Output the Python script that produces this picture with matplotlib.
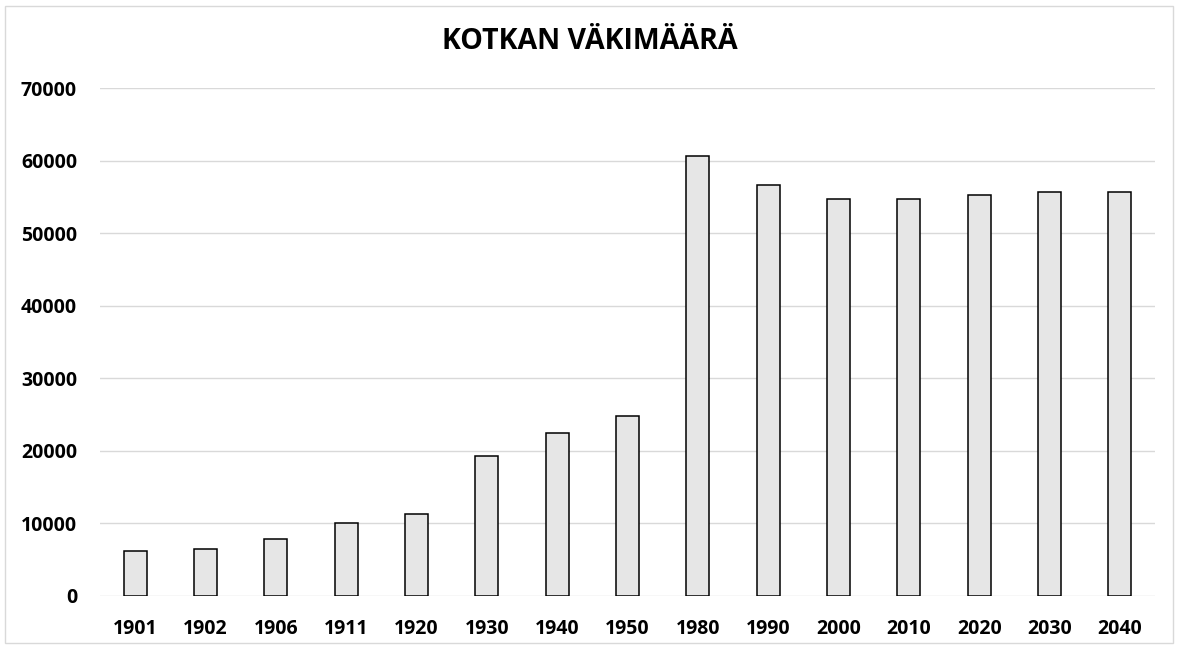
import matplotlib
matplotlib.use("Agg")
import matplotlib.pyplot as plt
from matplotlib.patches import FancyBboxPatch

years = ["1901", "1902", "1906", "1911", "1920", "1930", "1940", "1950",
         "1980", "1990", "2000", "2010", "2020", "2030", "2040"]
population = [6100, 6420, 7800, 9960, 11280, 19260, 22380, 24760,
              60660, 56590, 54750, 54750, 55250, 55710, 55710]
y_ticks = [0, 10000, 20000, 30000, 40000, 50000, 60000, 70000]
title = "KOTKAN VÄKIMÄÄRÄ"

plt.rcParams['font.family'] = ['Open Sans', 'DejaVu Sans']

fig = plt.figure(figsize=(11.79, 6.48), dpi=100)
W, H = 1179, 648
ax = fig.add_axes([100 / W, (H - 595.7) / H, 1055 / W, (595.7 - 88) / H])

x = list(range(len(years)))
ax.bar(x, population, width=0.33, color="#e6e6e6", edgecolor="black",
       linewidth=1.1, zorder=3)

ax.set_xlim(-0.5, len(years) - 0.5)
ax.set_ylim(0, 70000)
ax.set_yticks(y_ticks)
ax.set_yticklabels([str(v) for v in y_ticks], fontsize=14, fontweight="bold")
ax.set_xticks(x)
ax.set_xticklabels(years, fontsize=14, fontweight="bold")
ax.tick_params(axis="both", length=0)
ax.tick_params(axis="y", pad=16.5)
ax.tick_params(axis="x", pad=17)
ax.yaxis.grid(True, color="#d9d9d9", linewidth=1, zorder=0)
for s in ax.spines.values():
    s.set_visible(False)

fig.text(590 / W, 1 - 49 / H, title, ha="center", va="baseline",
         fontsize=20.5, fontweight="bold")

border = FancyBboxPatch((5 / W, 5 / H), 1168 / W, 637 / H,
                        boxstyle="square,pad=0", transform=fig.transFigure,
                        fill=False, edgecolor="#d9d9d9", linewidth=1)
fig.patches.append(border)

fig.savefig("out.png", dpi=100)
